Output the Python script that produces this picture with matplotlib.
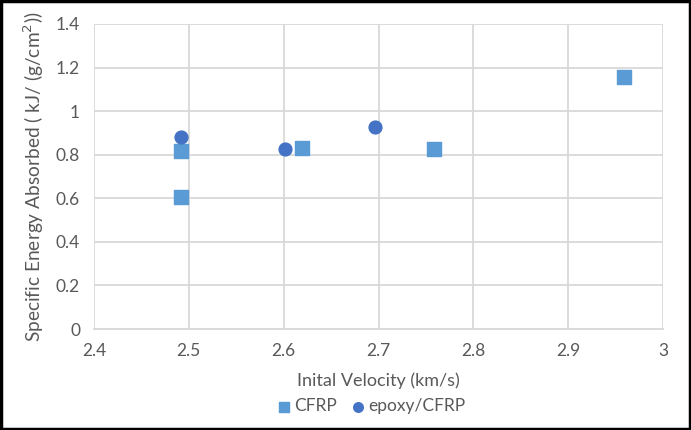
import matplotlib
matplotlib.use('Agg')
import matplotlib.pyplot as plt
from matplotlib.patches import Rectangle

plt.rcParams['font.family'] = ['Lato', 'DejaVu Sans']

# data
cfrp_v = [2.492, 2.492, 2.619, 2.758, 2.959]
cfrp_e = [0.817, 0.607, 0.832, 0.826, 1.157]
epoxy_v = [2.492, 2.601, 2.696]
epoxy_e = [0.881, 0.826, 0.927]

xticks = [2.4, 2.5, 2.6, 2.7, 2.8, 2.9, 3.0]
xlabels = ['2.4', '2.5', '2.6', '2.7', '2.8', '2.9', '3']
yticks = [0, 0.2, 0.4, 0.6, 0.8, 1.0, 1.2, 1.4]
ylabels = ['0', '0.2', '0.4', '0.6', '0.8', '1', '1.2', '1.4']

txt = '#595959'
grid = '#D9D9D9'

fig = plt.figure(figsize=(6.91, 4.30), dpi=100)
ax = fig.add_axes([94/691, 1-329/430, (663-94)/691, (329-24)/430])

ax.scatter(cfrp_v, cfrp_e, marker='s', s=95, color='#5B9BD5', label='CFRP', zorder=3)
ax.scatter(epoxy_v, epoxy_e, marker='o', s=85, color='#4472C4', label='epoxy/CFRP', zorder=3)

ax.set_xlim(2.4, 3.0)
ax.set_ylim(0, 1.4)
ax.set_xticks(xticks)
ax.set_xticklabels(xlabels)
ax.set_yticks(yticks)
ax.set_yticklabels(ylabels)
ax.grid(color=grid, linewidth=1.3)
ax.set_axisbelow(True)
for s in ['left', 'top', 'right']:
    ax.spines[s].set_visible(False)
ax.spines['bottom'].set_color(grid)
ax.spines['bottom'].set_linewidth(1.3)
ax.tick_params(length=0, colors=txt, labelsize=12.5, pad=10)

ax.set_xlabel('Inital Velocity (km/s)', color=txt, fontsize=13, labelpad=10)
ax.set_ylabel('Specific Energy Absorbed ( kJ/ (g/cm$^2$))', color=txt, fontsize=13.8, labelpad=7)

fig.legend(loc='lower center', bbox_to_anchor=(0.535, 0.0), ncol=2, frameon=False,
           fontsize=12.5, labelcolor=txt, handletextpad=0.0, columnspacing=0.6,
           handlelength=1.2, markerscale=0.75)

fig.patches.append(Rectangle((0.002, 0.003), 0.996, 0.994, transform=fig.transFigure,
                             fill=False, edgecolor='black', linewidth=2.5))

plt.savefig('out.png', dpi=100)
plt.close()
